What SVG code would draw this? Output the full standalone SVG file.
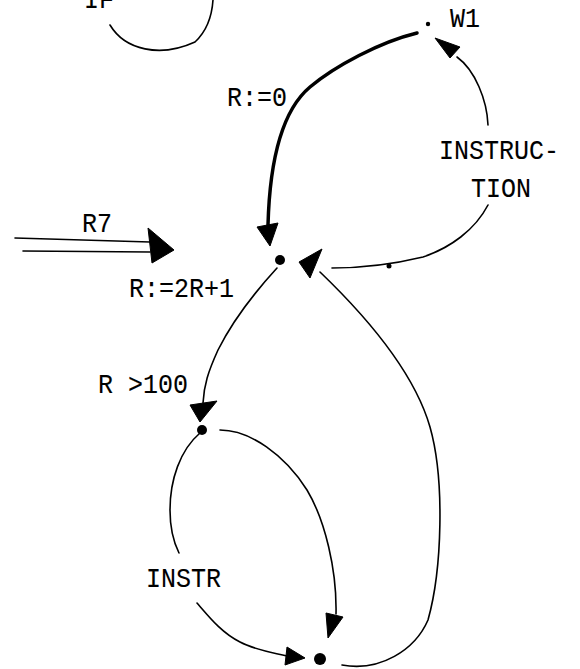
<svg xmlns="http://www.w3.org/2000/svg" width="580" height="669" viewBox="0 0 580 669">
<style>
.e{fill:none;stroke:#000;stroke-width:1.6;stroke-linecap:round}
.b{fill:none;stroke:#000;stroke-width:3.5;stroke-linecap:round}
.h{fill:#000;stroke:#000;stroke-width:1;stroke-linejoin:round}
.t{font-family:"Liberation Mono","DejaVu Sans Mono",monospace;font-size:25px;fill:#000;stroke:#000;stroke-width:0.1}
.d{fill:#000}
</style>
<rect width="580" height="669" fill="#fff"/>
<g id="connectors">
  <path class="e" d="M110,25 C125,50 160,58 195,42 C208,30 212,15 213,0"/>
  <path class="b" d="M417,33 C380,42 335,66 310,87 C285,108 270,150 268,225"/>
  <polygon class="h" points="257,227 278,223 270,246"/>
  <path class="e" d="M332,268 C360,268 390,265 423,257 C450,248 475,230 488,205"/>
  <path class="e" d="M488,125 C487,100 475,70 457,57"/>
  <polygon class="h" points="435,38 460,47 450,58"/>
  <path class="e" d="M277,268 C255,292 232,322 218,350 C208,372 204,385 203,403"/>
  <polygon class="h" points="190,405 217,401 200,422"/>
  <path class="e" d="M220,430 C250,430 285,455 307,490 C325,520 337,570 336,614"/>
  <polygon class="h" points="326,613 343,617 328,638"/>
  <path class="e" d="M200,433 C180,450 170,480 170,510 C170,530 174,543 179,553"/>
  <path class="e" d="M197,603 C210,618 222,633 240,642 C255,650 270,652 287,656"/>
  <polygon class="h" points="287,647 285,665 305,658"/>
  <path class="e" d="M342,665 C380,672 415,650 428,620 C442,570 445,480 430,427 C415,375 370,320 320,272"/>
  <polygon class="h" points="299,262 322,249 310,278"/>
  <path class="e" d="M15,238 L150,242"/>
  <path class="e" d="M23,251 L150,252"/>
  <polygon class="h" points="148,228 174,250 152,263"/>
  <circle class="d" cx="389" cy="266" r="2.5"/>
</g>
<g id="node-w1"><circle class="d" cx="428" cy="24" r="2.2"/><text class="t" transform="translate(450,27) scale(1,1.1)">W1</text></g>
<g id="node-center"><circle class="d" cx="280" cy="260" r="5"/></g>
<g id="node-r100"><circle class="d" cx="202" cy="430" r="5"/></g>
<g id="node-bottom"><circle class="d" cx="320" cy="659" r="6"/></g>
<g id="labels">
  <text class="t" transform="translate(84,8) scale(1,1.1)">IF</text>
  <text class="t" transform="translate(227,106) scale(1,1.1)">R:=0</text>
  <text class="t" transform="translate(439,159) scale(1,1.1)">INSTRUC-</text>
  <text class="t" transform="translate(471,197) scale(1,1.1)">TION</text>
  <text class="t" transform="translate(82,232) scale(1,1.1)">R7</text>
  <text class="t" transform="translate(129,297) scale(1,1.1)">R:=2R+1</text>
  <text class="t" transform="translate(98,393) scale(1,1.1)">R &gt;100</text>
  <text class="t" transform="translate(146,587) scale(1,1.1)">INSTR</text>
</g>
</svg>
